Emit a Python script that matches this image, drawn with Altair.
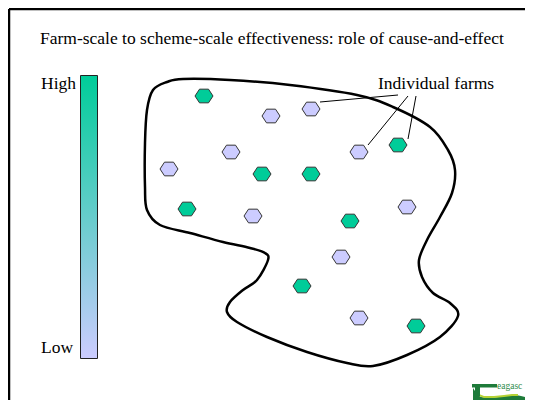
import altair as alt
import pandas as pd

# ---- data (image-space coordinates of the diagram) ----
title_text = ["Farm-scale to scheme-scale effectiveness: role of cause-and-effect"]
title_x = [40]
title_y = [43.5]

scale_labels = ["High", "Low"]
scale_label_x = [41, 41]
scale_label_y = [89, 353]

bar_x = [80.5]
bar_x2 = [97.5]
bar_y = [75.5]
bar_y2 = [358.5]

farm_x = [204, 398, 262, 311, 187, 350, 302, 416, 271, 311, 231, 359, 169, 253, 407, 341, 359]
farm_y = [96, 145, 174, 174, 209, 221, 286, 326, 116, 109, 152, 152, 169, 216, 207, 257, 318]
farm_level = ["High", "High", "High", "High", "High", "High", "High", "High",
              "Low", "Low", "Low", "Low", "Low", "Low", "Low", "Low", "Low"]

blob_x = [183, 230, 290, 357, 393, 430, 448, 455, 452, 440, 427, 419, 422, 433, 450, 458,
          440, 407, 373, 347, 307, 267, 237, 227, 230, 243, 257, 268, 265, 250, 223, 190,
          160, 147, 145, 145, 147, 153, 167]
blob_y = [79, 80, 85, 95, 107, 127, 150, 170, 193, 217, 240, 260, 277, 293, 303, 316,
          337, 355, 366, 363, 352, 337, 322, 312, 302, 290, 280, 260, 253, 248, 242, 233,
          225, 210, 187, 143, 110, 90, 82]

label_text = ["Individual farms"]
label_x = [378]
label_y = [89]

leader_x = [398, 408, 416]
leader_y = [95, 96, 96]
leader_x2 = [320, 368, 408]
leader_y2 = [102, 145, 139]

frame_x = [9, 9]
frame_y = [9, 9]
frame_x2 = [525, 9]
frame_y2 = [9, 400]

logo_text = ["eagasc"]
logo_tx = [497]
logo_ty = [389]
logo_body_x = [473, 477, 481, 489, 499, 508, 516, 521, 525]
logo_body_y = [388, 394, 397, 398, 397, 395, 395, 396, 397]
logo_body_y2 = [400, 400, 400, 400, 400, 400, 400, 400, 400]
logo_hi_x = [479, 484, 494, 504, 512, 518]
logo_hi_y = [394, 396, 396, 395, 394, 394]
logo_hi_y2 = [396, 398, 398, 397, 396, 396]

GREEN = "#00CC99"
LAV = "#CCCCFF"

xs = alt.Scale(domain=[8, 525], nice=False, zero=False)
ys = alt.Scale(domain=[8, 400], reverse=True, nice=False, zero=False)


def X(f="x"):
    return alt.X(f + ":Q", scale=xs, axis=None)


def Y(f="y"):
    return alt.Y(f + ":Q", scale=ys, axis=None)


FONT = "Liberation Serif"

frame = alt.Chart(pd.DataFrame({"x": frame_x, "y": frame_y, "x2": frame_x2, "y2": frame_y2})).mark_rule(
    color="black", strokeWidth=2.5
).encode(x=X(), y=Y(), x2="x2:Q", y2="y2:Q")

title = alt.Chart(pd.DataFrame({"x": title_x, "y": title_y, "t": title_text})).mark_text(
    font=FONT, fontSize=17.5, align="left", baseline="alphabetic", color="black"
).encode(x=X(), y=Y(), text="t:N")

grad = alt.LinearGradient(
    gradient="linear",
    stops=[alt.GradientStop(offset=0, color=GREEN), alt.GradientStop(offset=1, color=LAV)],
    x1=0, x2=0, y1=0, y2=1,
)
bar = alt.Chart(pd.DataFrame({"x": bar_x, "x2": bar_x2, "y": bar_y, "y2": bar_y2})).mark_rect(
    fill=grad, stroke="#222222", strokeWidth=1
).encode(x=X(), x2="x2:Q", y=Y(), y2="y2:Q")

scale_txt = alt.Chart(pd.DataFrame({"x": scale_label_x, "y": scale_label_y, "t": scale_labels})).mark_text(
    font=FONT, fontSize=17.5, align="left", baseline="alphabetic", color="black"
).encode(x=X(), y=Y(), text="t:N")

blob_df = pd.DataFrame({"x": blob_x, "y": blob_y, "i": list(range(len(blob_x)))})
blob = alt.Chart(blob_df).mark_line(
    interpolate="cardinal-closed", color="black", strokeWidth=2.5
).encode(x=X(), y=Y(), order="i:Q")

leaders = alt.Chart(pd.DataFrame({"x": leader_x, "y": leader_y, "x2": leader_x2, "y2": leader_y2})).mark_rule(
    color="black", strokeWidth=1
).encode(x=X(), y=Y(), x2="x2:Q", y2="y2:Q")

label = alt.Chart(pd.DataFrame({"x": label_x, "y": label_y, "t": label_text})).mark_text(
    font=FONT, fontSize=17.5, align="left", baseline="alphabetic", color="black"
).encode(x=X(), y=Y(), text="t:N")

HEX = "M -1 0 L -0.5 -0.76 L 0.5 -0.76 L 1 0 L 0.5 0.76 L -0.5 0.76 Z"
farms = alt.Chart(pd.DataFrame({"x": farm_x, "y": farm_y, "lvl": farm_level})).mark_point(
    shape=HEX, size=324, filled=True, opacity=1, stroke="#333333", strokeWidth=1
).encode(
    x=X(), y=Y(),
    fill=alt.Fill("lvl:N", scale=alt.Scale(domain=["High", "Low"], range=[GREEN, LAV]), legend=None),
)

logo_body = alt.Chart(pd.DataFrame({"x": logo_body_x, "y": logo_body_y, "y2": logo_body_y2})).mark_area(
    color="#1E7B3A"
).encode(x=X(), y=Y(), y2="y2:Q")
logo_hi = alt.Chart(pd.DataFrame({"x": logo_hi_x, "y": logo_hi_y, "y2": logo_hi_y2})).mark_area(
    color="#B5D334"
).encode(x=X(), y=Y(), y2="y2:Q")
logo_bar = alt.Chart(pd.DataFrame({"x": [472], "x2": [497], "y": [384], "y2": [387.5]})).mark_rect(
    color="#1E7B3A"
).encode(x=X(), x2="x2:Q", y=Y(), y2="y2:Q")
logo_stem = alt.Chart(pd.DataFrame({"x": [475], "x2": [480], "y": [385], "y2": [396]})).mark_rect(
    color="#1E7B3A"
).encode(x=X(), x2="x2:Q", y=Y(), y2="y2:Q")
logo_txt = alt.Chart(pd.DataFrame({"x": logo_tx, "y": logo_ty, "t": logo_text})).mark_text(
    font=FONT, fontSize=9.5, align="left", baseline="alphabetic", color="#2E8B4A"
).encode(x=X(), y=Y(), text="t:N")

chart = alt.layer(
    frame, title, bar, scale_txt, blob, leaders, label, farms,
    logo_body, logo_hi, logo_bar, logo_stem, logo_txt
).properties(
    width=517, height=392, padding=0, autosize=alt.AutoSizeParams(type="none"),
    background="white",
).configure_view(strokeWidth=0)

chart.save("out.html", embed_options={"renderer": "svg", "actions": False})
